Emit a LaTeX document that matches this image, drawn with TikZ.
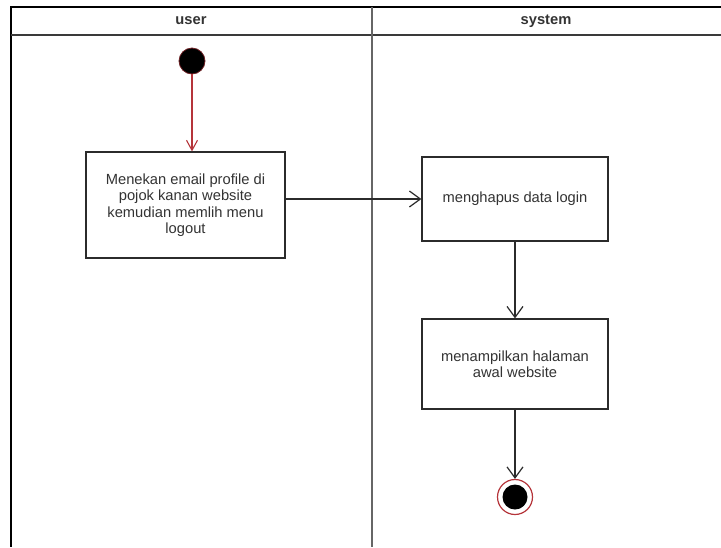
\documentclass[tikz,border=0pt]{standalone}
\usepackage{fontspec}
\setmainfont{Liberation Sans}
\usetikzlibrary{arrows.meta}
\definecolor{txt}{HTML}{333333}
\definecolor{edge}{HTML}{2B2B2B}
\definecolor{lane}{HTML}{3A3A3A}
\definecolor{flowred}{HTML}{B5343A}
\tikzset{
  act/.style={draw=edge, line width=1.2pt, fill=white, text=txt, align=center,
    font=\fontsize{14.7}{16.5}\selectfont, inner sep=0pt},
  flow/.style={draw=edge, line width=1.2pt, -{Straight Barb[length=11pt,width=16pt,line width=1.2pt]}},
  startflow/.style={draw=flowred, line width=1.1pt, -{Straight Barb[length=10pt,width=11pt,line width=1.1pt]}},
  lanehead/.style={text=txt, font=\fontsize{14.7}{16}\selectfont\bfseries},
  laneline/.style={draw=lane, line width=1.3pt},
}
\begin{document}
\begin{tikzpicture}[x=1pt,y=-1pt]
  \useasboundingbox (0,0) rectangle (721,547);
  \fill[white] (0,0) rectangle (721,547);

  % swimlane frame
  \coordinate (tl) at (11,7);
  \coordinate (tr) at (721,7);
  \coordinate (hl) at (11,35);
  \coordinate (hr) at (721,35);
  \coordinate (bl) at (11,547);
  \coordinate (dt) at (372,7);
  \coordinate (db) at (372,547);
  \draw[laneline, draw=black] (tr) -- (tl) -- (bl);
  \draw[laneline] (hl) -- (hr);
  \draw[laneline, draw=gray!80!black, line width=1.6pt] (dt) -- (db);
  \node[lanehead] (userlbl) at (191,21) {user};
  \node[lanehead] (syslbl) at (546,21) {system};

  % start and end states
  \node[circle, fill=black, draw=flowred!60!black, line width=0.8pt,
        minimum size=26pt, inner sep=0pt] (start) at (192,61) {};
  \node[circle, draw=flowred, line width=1.2pt, fill=white,
        minimum size=35pt, inner sep=0pt] (stop) at (515,497) {};
  \node[circle, fill=black, minimum size=25pt, inner sep=0pt] (stopdot) at (515,497) {};

  % activities
  \node[act, minimum width=199pt, minimum height=106pt] (press) at (185.5,205)
    {Menekan email profile di\\pojok kanan website\\kemudian memlih menu\\logout};
  \node[act, minimum width=186pt, minimum height=84pt] (erase) at (515,199)
    {menghapus data login};
  \node[act, minimum width=186pt, minimum height=90pt] (home) at (515,364)
    {menampilkan halaman\\awal website};

  % control flows
  \draw[startflow] (start) -- (start |- press.north);
  \draw[flow] (press.east |- erase.west) -- (erase.west);
  \draw[flow] (erase) -- (home);
  \draw[flow] (home) -- (stop);
\end{tikzpicture}
\end{document}
